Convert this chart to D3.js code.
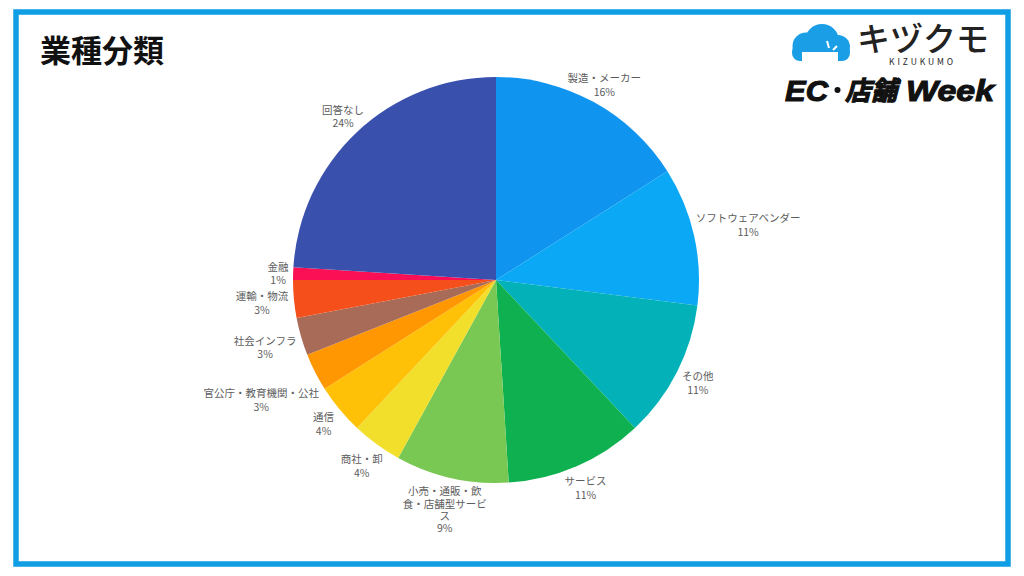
<!DOCTYPE html>
<html>
<head>
<meta charset="utf-8">
<script src="https://cdn.jsdelivr.net/npm/d3@7"></script>
<style>
  html, body { margin: 0; padding: 0; background: #fff; }
  svg { display: block; font-family: "Noto Sans CJK JP", "Noto Sans", sans-serif; }
</style>
</head>
<body>
<div id="chart"></div>
<script>
var categories = ["製造・メーカー", "ソフトウェアベンダー", "その他", "サービス", "小売・通販・飲\n食・店舗型サービ\nス", "商社・卸", "通信", "官公庁・教育機関・公社", "社会インフラ", "運輸・物流", "金融", "回答なし"];
var shares = [16, 11, 11, 11, 9, 4, 4, 3, 3, 3, 1, 24];
var colors = ["#0f94ef", "#0aa8f5", "#02b2b8", "#0eb04f", "#7ac854", "#f1df2b", "#fec107", "#ff9702", "#a76b58", "#f5501c", "#fb1056", "#3a50ad"];

var width = 1024, height = 576;
var cx = 496, cy = 280, radius = 203;

// label nudges from the slice's rim point, the wedges don't follow one rule
var labelNudge = [[10.5, -17], [54, -10.5], [21, 11], [9, 22], [-7, 32], [-15, 22], [-16, 15], [-54, 28], [-36, 11], [-32, 4], [-15, 0], [-14, -15]];

var svg = d3.select("#chart").append("svg")
  .attr("width", width)
  .attr("height", height);

svg.append("rect")
  .attr("x", 16).attr("y", 12)
  .attr("width", 992).attr("height", 552)
  .attr("fill", "#fff")
  .attr("stroke", "#0f9de3")
  .attr("stroke-width", 5.5);

svg.append("text")
  .attr("x", 40).attr("y", 62)
  .attr("font-size", 31)
  .attr("font-weight", 700)
  .attr("fill", "#111")
  .text("業種分類");

var pie = d3.pie().sort(null).value(function(d) { return d; });
var arc = d3.arc().innerRadius(0).outerRadius(radius);
var rim = d3.arc().innerRadius(radius).outerRadius(radius);
var slices = pie(shares);

var chart = svg.append("g").attr("transform", "translate(" + cx + "," + cy + ")");

chart.selectAll("path.slice")
  .data(slices)
  .enter().append("path")
  .attr("class", "slice")
  .attr("d", arc)
  .attr("fill", function(d, i) { return colors[i]; });

var labels = chart.selectAll("text.label")
  .data(slices)
  .enter().append("text")
  .attr("class", "label")
  .attr("text-anchor", "middle")
  .attr("font-size", 10.5)
  .attr("fill", "#5c5c5c")
  .attr("transform", function(d, i) {
    var p = rim.centroid(d);
    return "translate(" + (p[0] + labelNudge[i][0]) + "," + (p[1] + labelNudge[i][1]) + ")";
  });

labels.each(function(d, i) {
  var lines = categories[i].split("\n").concat([d.value + "%"]);
  // wrapped labels sit tighter than the two line ones
  var lineHeight = lines.length > 2 ? 12.4 : 13.4;
  var top = -(lines.length - 1) * lineHeight / 2 + 3.7;
  d3.select(this).selectAll("tspan")
    .data(lines)
    .enter().append("tspan")
    .attr("x", 0)
    .attr("y", function(t, j) { return top + j * lineHeight; })
    .text(function(t) { return t; });
});

// logo block, top right
var logo = svg.append("g");
var cloud = logo.append("g").attr("fill", "#1a9fe6");
cloud.append("circle").attr("cx", 806).attr("cy", 46).attr("r", 13.5);
cloud.append("circle").attr("cx", 822).attr("cy", 41).attr("r", 17);
cloud.append("circle").attr("cx", 838).attr("cy", 47).attr("r", 12);
cloud.append("rect").attr("x", 792).attr("y", 44).attr("width", 58).attr("height", 17).attr("rx", 8);
logo.append("rect").attr("x", 802).attr("y", 52).attr("width", 36).attr("height", 15).attr("fill", "#fff");
cloud.append("rect").attr("x", 809).attr("y", 60.5).attr("width", 5).attr("height", 5);
cloud.append("rect").attr("x", 828).attr("y", 60.5).attr("width", 5).attr("height", 5);
logo.append("line").attr("x1", 827).attr("y1", 41).attr("x2", 829).attr("y2", 48).attr("stroke", "#fff").attr("stroke-width", 2);
logo.append("line").attr("x1", 837).attr("y1", 46).attr("x2", 833).attr("y2", 50).attr("stroke", "#fff").attr("stroke-width", 2);

logo.append("text")
  .attr("x", 857).attr("y", 51)
  .attr("font-size", 33)
  .attr("font-weight", 500)
  .attr("fill", "#222")
  .text("キヅクモ");

logo.append("text")
  .attr("x", 889).attr("y", 65)
  .attr("font-size", 8.5)
  .attr("letter-spacing", 2.9)
  .attr("fill", "#222")
  .text("KIZUKUMO");

// the event name is set piece by piece, the dot is much narrower than a full width ・
var eventName = logo.append("g")
  .attr("font-weight", 700)
  .attr("font-style", "italic")
  .attr("fill", "#111")
  .attr("stroke", "#111")
  .attr("stroke-width", 1.1);

eventName.append("text")
  .attr("x", 785).attr("y", 101)
  .attr("font-family", "'Liberation Sans'")
  .attr("font-size", 30)
  .attr("textLength", 43).attr("lengthAdjust", "spacingAndGlyphs")
  .text("EC");
eventName.append("circle").attr("cx", 837.5).attr("cy", 90).attr("r", 3).attr("stroke", "none");
eventName.append("text")
  .attr("x", 845).attr("y", 100)
  .attr("font-size", 26)
  .text("店舗");
eventName.append("text")
  .attr("x", 906).attr("y", 101)
  .attr("font-family", "'Liberation Sans'")
  .attr("font-size", 30)
  .attr("textLength", 88).attr("lengthAdjust", "spacingAndGlyphs")
  .text("Week");
</script>
</body>
</html>
